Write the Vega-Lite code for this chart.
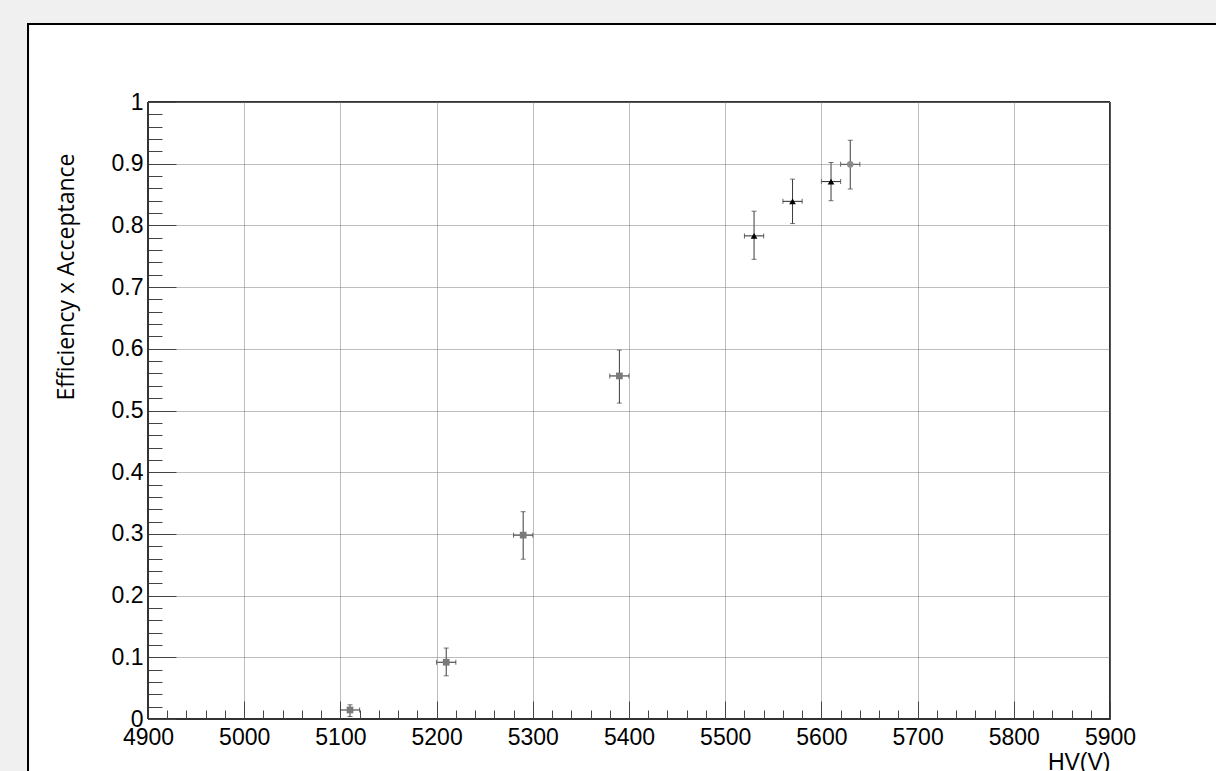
{
  "$schema": "https://vega.github.io/schema/vega-lite/v6.json",
  "autosize": "none",
  "width": 962,
  "height": 617,
  "padding": {"left": 148, "top": 102, "right": 106, "bottom": 52},
  "background": "#f0f0f0",
  "data": {
    "values": [
      {"hv": 5110, "hv_lo": 5100, "hv_hi": 5120, "eff": 0.0146, "eff_lo": 0.004, "eff_hi": 0.023, "marker": "sq"},
      {"hv": 5210, "hv_lo": 5200, "hv_hi": 5220, "eff": 0.092, "eff_lo": 0.070, "eff_hi": 0.115, "marker": "sq"},
      {"hv": 5290, "hv_lo": 5280, "hv_hi": 5300, "eff": 0.298, "eff_lo": 0.259, "eff_hi": 0.336, "marker": "sq"},
      {"hv": 5390, "hv_lo": 5380, "hv_hi": 5400, "eff": 0.556, "eff_lo": 0.512, "eff_hi": 0.598, "marker": "sq"},
      {"hv": 5530, "hv_lo": 5520, "hv_hi": 5540, "eff": 0.783, "eff_lo": 0.745, "eff_hi": 0.823, "marker": "tri"},
      {"hv": 5570, "hv_lo": 5560, "hv_hi": 5580, "eff": 0.839, "eff_lo": 0.803, "eff_hi": 0.875, "marker": "tri"},
      {"hv": 5610, "hv_lo": 5600, "hv_hi": 5620, "eff": 0.871, "eff_lo": 0.840, "eff_hi": 0.902, "marker": "tri"},
      {"hv": 5630, "hv_lo": 5620, "hv_hi": 5640, "eff": 0.899, "eff_lo": 0.859, "eff_hi": 0.938, "marker": "circ"}
    ]
  },
  "resolve": {"axis": {"x": "independent", "y": "independent"}},
  "layer": [
    {
      "mark": {"type": "rect", "fill": "white", "stroke": "black", "strokeWidth": 2, "clip": false},
      "encoding": {
        "x": {"datum": 4775.3, "type": "quantitative", "scale": {"domain": [4900, 5900], "nice": false, "zero": false}, "axis": null},
        "x2": {"datum": 6400},
        "y": {"datum": 1.1264, "type": "quantitative", "scale": {"domain": [0, 1], "nice": false, "zero": false}, "axis": null},
        "y2": {"datum": -0.4}
      }
    },
    {
      "mark": {"type": "rect", "fill": null, "fillOpacity": 0, "stroke": "#333333", "strokeWidth": 1},
      "encoding": {
        "x": {"datum": 4900, "type": "quantitative", "scale": {"domain": [4900, 5900], "nice": false, "zero": false},
          "axis": {"orient": "bottom", "values": [4920,4940,4960,4980,5020,5040,5060,5080,5120,5140,5160,5180,5220,5240,5260,5280,5320,5340,5360,5380,5420,5440,5460,5480,5520,5540,5560,5580,5620,5640,5660,5680,5720,5740,5760,5780,5820,5840,5860,5880],
            "labels": false, "grid": false, "domain": false, "tickSize": -9, "tickColor": "#444444", "title": null, "zindex": 1}},
        "x2": {"datum": 5900},
        "y": {"datum": 0, "type": "quantitative", "scale": {"domain": [0, 1], "nice": false, "zero": false},
          "axis": {"orient": "left", "values": [0.02,0.04,0.06,0.08,0.12,0.14,0.16,0.18,0.22,0.24,0.26,0.28,0.32,0.34,0.36,0.38,0.42,0.44,0.46,0.48,0.52,0.54,0.56,0.58,0.62,0.64,0.66,0.68,0.72,0.74,0.76,0.78,0.82,0.84,0.86,0.88,0.92,0.94,0.96,0.98],
            "labels": false, "grid": false, "domain": false, "tickSize": -14, "tickColor": "#444444", "title": null, "zindex": 1}},
        "y2": {"datum": 1}
      }
    },
    {
      "mark": {"type": "errorbar", "color": "#3a3a3a", "ticks": {"size": 5, "thickness": 1, "color": "#3a3a3a"}, "rule": {"strokeWidth": 1}},
      "encoding": {
        "x": {"field": "hv", "type": "quantitative", "scale": {"domain": [4900, 5900], "nice": false, "zero": false}, "axis": null},
        "y": {"field": "eff_lo", "type": "quantitative", "scale": {"domain": [0, 1], "nice": false, "zero": false}, "axis": null},
        "y2": {"field": "eff_hi"}
      }
    },
    {
      "mark": {"type": "errorbar", "color": "#2a2a2a", "ticks": {"size": 5, "thickness": 1, "color": "#2a2a2a"}, "rule": {"strokeWidth": 1}},
      "encoding": {
        "x": {"field": "hv_lo", "type": "quantitative", "scale": {"domain": [4900, 5900], "nice": false, "zero": false}, "axis": null},
        "x2": {"field": "hv_hi"},
        "y": {"field": "eff", "type": "quantitative", "scale": {"domain": [0, 1], "nice": false, "zero": false}, "axis": null}
      }
    },
    {
      "mark": {"type": "point", "filled": true, "opacity": 1, "size": 45},
      "encoding": {
        "x": {"field": "hv", "type": "quantitative", "scale": {"domain": [4900, 5900], "nice": false, "zero": false},
          "axis": {"orient": "bottom", "values": [4900,5000,5100,5200,5300,5400,5500,5600,5700,5800,5900], "format": "d",
            "tickSize": -18, "tickColor": "#444444", "labelPadding": 25, "labelFont": "Liberation Sans", "labelFontSize": 23, "labelColor": "black",
            "labelFlush": false, "labelOverlap": false,
            "grid": true, "gridColor": "#7a7a7a", "gridDash": [1, 1], "gridWidth": 1,
            "domain": true, "domainColor": "#333333",
            "title": "HV(V)", "titleFont": "Liberation Sans", "titleFontSize": 23, "titleFontWeight": "normal", "titleColor": "black",
            "titleX": 962, "titleY": 50, "titleAlign": "right", "titleBaseline": "alphabetic", "titleAnchor": null, "zindex": 1}},
        "y": {"field": "eff", "type": "quantitative", "scale": {"domain": [0, 1], "nice": false, "zero": false},
          "axis": {"orient": "left", "values": [0, 0.1, 0.2, 0.3, 0.4, 0.5, 0.6, 0.7, 0.8, 0.9, 1], "format": "~g",
            "tickSize": -28, "tickColor": "#444444", "labelPadding": 33, "labelFont": "Liberation Sans", "labelFontSize": 23, "labelColor": "black",
            "labelFlush": false, "labelOverlap": false,
            "grid": true, "gridColor": "#7a7a7a", "gridDash": [1, 1], "gridWidth": 1,
            "domain": true, "domainColor": "#333333",
            "title": "Efficiency x Acceptance", "titleFont": "Open Sans", "titleFontSize": 23, "titleFontWeight": "normal", "titleColor": "black",
            "titleAngle": -90, "titleX": -75, "titleY": 51, "titleAlign": "right", "titleBaseline": "alphabetic", "titleAnchor": null, "zindex": 1}},
        "shape": {"field": "marker", "type": "nominal", "scale": {"domain": ["sq", "tri", "circ"], "range": ["square", "triangle-up", "circle"]}, "legend": null},
        "color": {"field": "marker", "type": "nominal", "scale": {"domain": ["sq", "tri", "circ"], "range": ["#7a7a7a", "#000000", "#8f8f8f"]}, "legend": null}
      }
    }
  ],
  "config": {
    "view": {"stroke": null}
  }
}
